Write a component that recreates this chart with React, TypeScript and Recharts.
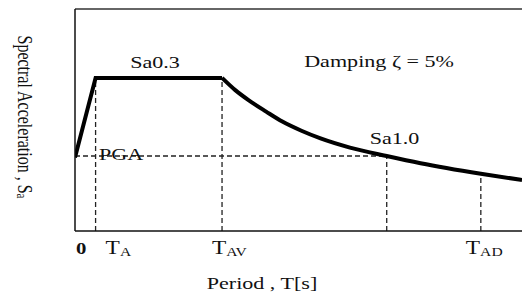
import React from "react";
import { LineChart, Line, XAxis, YAxis, ReferenceLine, ReferenceDot } from "recharts";

// periods (arbitrary units, T_AV = 1)
const T_A = 0.14;
const T_AV = 1.0;
const T_SA10 = 2.12;
const T_AD = 2.76;
const T_MAX = 3.04;
const SA_MAX = 1.45;
const PGA = 0.49;

// ramp from PGA up to plateau (straight segments)
const riseCurve = [
  { T: 0, Sa: 0.48 },
  { T: 0.14, Sa: 1.0 },
  { T: 1.0, Sa: 1.0 },
];

// descending branch after T_AV
const decayCurve = [
  { T: 1.0, Sa: 1.0 },
  { T: 1.09, Sa: 0.92 },
  { T: 1.18, Sa: 0.855 },
  { T: 1.3, Sa: 0.78 },
  { T: 1.41, Sa: 0.715 },
  { T: 1.54, Sa: 0.655 },
  { T: 1.67, Sa: 0.605 },
  { T: 1.87, Sa: 0.545 },
  { T: 2.12, Sa: 0.49 },
  { T: 2.35, Sa: 0.443 },
  { T: 2.76, Sa: 0.374 },
  { T: 3.04, Sa: 0.333 },
];

const xTicks = [0, T_A, T_AV, T_AD];
const tickMain = ["0", "T", "T", "T"];
const tickSub = ["", "A", "AV", "AD"];

// dashed guide segments
const guides = [
  { x1: 0, y1: PGA, x2: T_SA10, y2: PGA },
  { x1: T_A, y1: 0, x2: T_A, y2: 1.0 },
  { x1: T_AV, y1: 0, x2: T_AV, y2: 1.0 },
  { x1: T_SA10, y1: 0, x2: T_SA10, y2: 0.49 },
  { x1: T_AD, y1: 0, x2: T_AD, y2: 0.374 },
];

const notes = [
  { T: 0.544, Sa: 1.067, text: "Sa0.3", anchor: "middle" },
  { T: 2.068, Sa: 1.073, text: "Damping ζ = 5%", anchor: "middle" },
  { T: 0.163, Sa: 0.464, text: "PGA", anchor: "start" },
  { T: 2.173, Sa: 0.568, text: "Sa1.0", anchor: "middle" },
];

const FONT = "Liberation Serif, DejaVu Serif, serif";
const SX = 1.3; // source picture is stretched sideways
const INK = "#111";

function StretchText({ x, y, anchor = "start", size = 17, weight = "normal", children }: any) {
  return (
    <text
      transform={`translate(${x},${y}) scale(${SX},1)`}
      textAnchor={anchor}
      fontFamily={FONT}
      fontSize={size}
      fontWeight={weight}
      fill={INK}
    >
      {children}
    </text>
  );
}

const tickDx = [1, 10, -10, -15];

function PeriodTick(props: any) {
  const { x, y, payload } = props;
  const i = xTicks.indexOf(payload.value);
  if (i < 0) return null;
  const isZero = tickMain[i] === "0";
  return (
    <StretchText x={x + tickDx[i]} y={y + 15} size={isZero ? 16 : 18} weight={isZero ? "bold" : "normal"}>
      {tickMain[i]}
      {tickSub[i] && (
        <tspan fontSize={12} dy={2}>
          {tickSub[i]}
        </tspan>
      )}
    </StretchText>
  );
}

export default function App() {
  return (
    <div style={{ position: "absolute", left: 0, top: 0, background: "#fff" }}>
      <LineChart width={522} height={293} margin={{ top: 9, right: 0, left: 0, bottom: 32 }}>
        <XAxis
          type="number"
          dataKey="T"
          domain={[0, T_MAX]}
          ticks={xTicks}
          interval={0}
          allowDataOverflow
          tickLine={false}
          axisLine={{ stroke: INK, strokeWidth: 1.5 }}
          tick={<PeriodTick />}
          label={{
            content: (p: any) => (
              <StretchText x={p.viewBox.x + 187} y={p.viewBox.y + 58} anchor="middle" size={17}>
                Period , T[s]
              </StretchText>
            ),
          }}
        />
        <YAxis
          type="number"
          dataKey="Sa"
          domain={[0, SA_MAX]}
          width={75}
          tick={false}
          tickLine={false}
          allowDataOverflow
          axisLine={{ stroke: INK, strokeWidth: 1.5 }}
          label={{
            content: (p: any) => (
              <text
                transform={`translate(${p.viewBox.x + 25},${p.viewBox.y + 108}) scale(${SX},1) rotate(90)`}
                textAnchor="middle"
                dominantBaseline="central"
                fontFamily={FONT}
                fontSize={16}
                fill={INK}
              >
                Spectral Acceleration , S
                <tspan fontSize={11} dy={3}>a</tspan>
              </text>
            ),
          }}
        />
        <ReferenceLine y={SA_MAX} stroke="#333" strokeWidth={1.5} />
        {guides.map((g, i) => (
          <ReferenceLine
            key={i}
            segment={[
              { x: g.x1, y: g.y1 },
              { x: g.x2, y: g.y2 },
            ]}
            stroke="#222"
            strokeWidth={1.3}
            strokeDasharray="5 3"
          />
        ))}
        <Line
          data={riseCurve}
          dataKey="Sa"
          type="linear"
          stroke="#000"
          strokeWidth={4}
          dot={false}
          isAnimationActive={false}
        />
        <Line
          data={decayCurve}
          dataKey="Sa"
          type="monotone"
          stroke="#000"
          strokeWidth={4}
          dot={false}
          isAnimationActive={false}
        />
        {notes.map((n) => (
          <ReferenceDot
            key={n.text}
            x={n.T}
            y={n.Sa}
            r={0}
            shape={(p: any) => (
              <StretchText x={p.cx} y={p.cy} anchor={n.anchor}>
                {n.text}
              </StretchText>
            )}
          />
        ))}
      </LineChart>
    </div>
  );
}
